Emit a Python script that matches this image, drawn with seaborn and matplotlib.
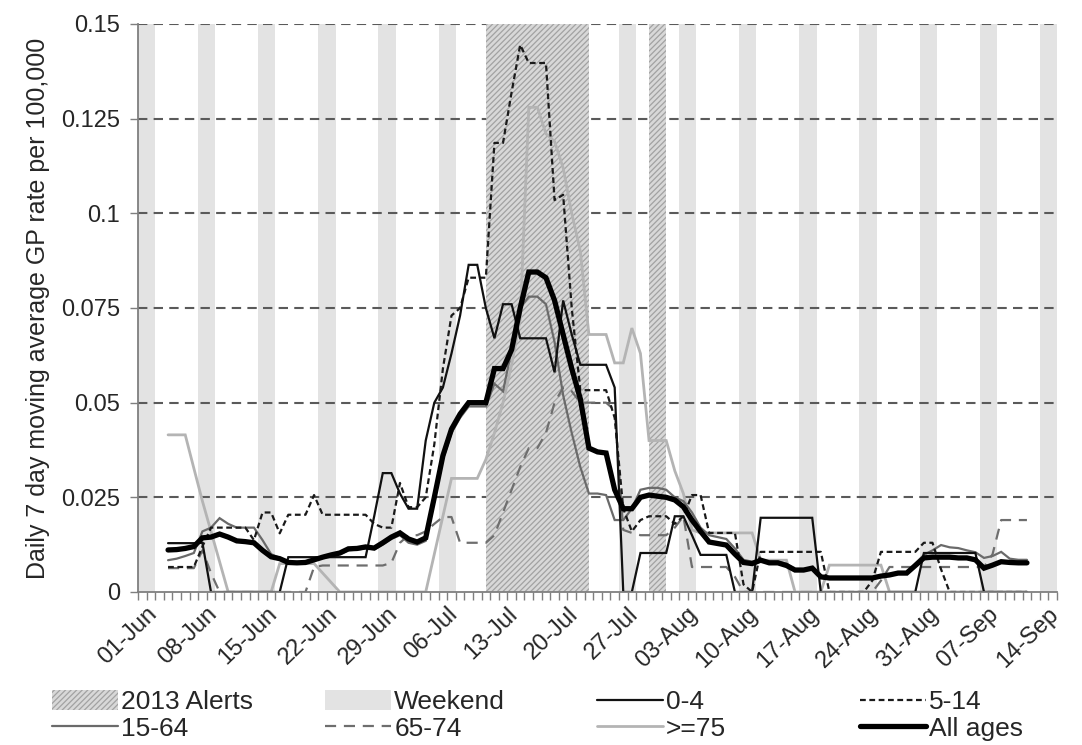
import numpy as np
import pandas as pd
import matplotlib
matplotlib.use("Agg")
import matplotlib.pyplot as plt
import matplotlib.transforms as mtransforms
from matplotlib.patches import Patch
from matplotlib.lines import Line2D
import seaborn as sns

# ---------------- data ----------------
dates = pd.date_range("2013-06-04", "2013-09-12", freq="D")

all_ages = ([0.0111, 0.0112, 0.0115, 0.0120, 0.0143, 0.0145, 0.0153, 0.0145, 0.0135, 0.0133,
             0.0130, 0.0110, 0.0093, 0.0088, 0.0078, 0.0077, 0.0078, 0.0085, 0.0092, 0.0098,
             0.0103, 0.0114, 0.0115, 0.0119, 0.0116, 0.0130, 0.0145, 0.0156, 0.0140, 0.0132,
             0.0143, 0.0250, 0.0360, 0.0430, 0.0470, 0.0500, 0.0500, 0.0500, 0.0590, 0.0590,
             0.0640, 0.0750, 0.0845, 0.0845, 0.0830, 0.0770, 0.0680, 0.0590, 0.0510, 0.0380,
             0.0370, 0.0367, 0.0270, 0.0220, 0.0220, 0.0250, 0.0256, 0.0253, 0.0250, 0.0243,
             0.0225, 0.0190, 0.0160, 0.0132, 0.0128, 0.0124, 0.0100, 0.0078, 0.0075, 0.0084,
             0.0077, 0.0077, 0.0070, 0.0058, 0.0058, 0.0063, 0.0040]
            + [0.0037] * 6
            + [0.0042, 0.0045, 0.0050, 0.0050, 0.0070, 0.0090, 0.0092, 0.0092, 0.0092, 0.0090,
               0.0090, 0.0085, 0.0063, 0.0071, 0.0080, 0.0078, 0.0077, 0.0077])

age_0_4 = ([0.0129] * 4 + [0.0130] + [0.0] * 9 + [0.0092] * 10
           + [0.020, 0.0314, 0.0314, 0.026, 0.022, 0.022, 0.040, 0.050, 0.054, 0.063,
              0.073, 0.0864, 0.0864, 0.075, 0.067, 0.076, 0.076, 0.067, 0.067, 0.067,
              0.067, 0.058, 0.077, 0.068, 0.060, 0.060, 0.060, 0.060, 0.054, 0.0, 0.0]
           + [0.0103] * 4 + [0.020, 0.020, 0.015] + [0.0098] * 4 + [0.0] * 3
           + [0.0196] * 7 + [0.0] * 12 + [0.0103] * 7 + [0.0] * 6)

age_5_14 = ([0.0066] * 4 + [0.012] + [0.017] * 5 + [0.0137, 0.021, 0.021, 0.0155]
            + [0.0204] * 3 + [0.0256] + [0.0204] * 6
            + [0.018, 0.017, 0.017, 0.0288, 0.0224, 0.0224, 0.025, 0.039, 0.059, 0.073,
               0.075, 0.083, 0.083, 0.083, 0.1186, 0.1186, 0.132, 0.1445, 0.1397, 0.1397,
               0.1397, 0.1035, 0.1049, 0.075, 0.0533, 0.0533, 0.0533, 0.0533, 0.046, 0.022, 0.016]
            + [0.019, 0.020, 0.020, 0.020, 0.018, 0.020, 0.0256, 0.0256] + [0.0156] * 4
            + [0.002, 0.0] + [0.0106] * 8 + [0.0] * 5 + [0.003] + [0.0106] * 5
            + [0.013, 0.013, 0.006] + [0.0] * 10)

age_15_64 = ([0.0084, 0.0088, 0.0095, 0.0103, 0.0160, 0.0170, 0.0195, 0.0180, 0.0170, 0.0170,
              0.0170, 0.0137, 0.0100, 0.0090, 0.0080, 0.0077, 0.0078, 0.0085, 0.0090, 0.0095,
              0.0100, 0.0110, 0.0112, 0.0115, 0.0113, 0.0125, 0.0140, 0.0150, 0.0130, 0.0125,
              0.0135, 0.0240, 0.0350, 0.0420, 0.0460, 0.0490, 0.0490, 0.0490, 0.0550, 0.0530,
              0.0640, 0.0750, 0.0780, 0.0780, 0.0760, 0.0660, 0.0520, 0.0420, 0.0330, 0.0260,
              0.0260, 0.0256, 0.0190, 0.0190, 0.0220, 0.0270, 0.0275, 0.0275, 0.0270, 0.0250,
              0.0240, 0.0210, 0.0170, 0.0150, 0.0145, 0.0140, 0.0115, 0.0085, 0.0080, 0.0085,
              0.0080, 0.0080, 0.0075, 0.0060, 0.0060, 0.0065, 0.0040]
             + [0.0037] * 6
             + [0.0043, 0.0046, 0.0050, 0.0050, 0.0075, 0.0098, 0.0110, 0.0124, 0.0118, 0.0116,
                0.0110, 0.0105, 0.0090, 0.0095, 0.0106, 0.0088, 0.0085, 0.0085])

age_65_74 = ([0.0063] * 4 + [0.011, 0.005] + [0.0] * 11 + [0.0066] + [0.0070] * 8 + [0.0077]
             + [0.013, 0.015, 0.015, 0.016, 0.018, 0.0198, 0.0198] + [0.013] * 4
             + [0.015, 0.021, 0.027, 0.033, 0.038, 0.038, 0.042, 0.050, 0.054, 0.053,
                0.050, 0.050, 0.050, 0.050, 0.048]
             + [0.0164, 0.0156] + [0.015] * 4 + [0.017, 0.020] + [0.0066] * 5 + [0.004]
             + [0.0] * 16 + [0.003] + [0.0066] * 12 + [0.010, 0.019] + [0.019] * 3)

age_75p = ([0.0415] * 3 + [0.0327, 0.024, 0.016, 0.008] + [0.0] * 6 + [0.0075] * 5
           + [0.005, 0.0025] + [0.0] * 11 + [0.010, 0.020] + [0.030] * 4
           + [0.035, 0.042, 0.050, 0.060, 0.072, 0.128, 0.128, 0.121, 0.119, 0.112,
              0.100, 0.090, 0.068, 0.068, 0.068, 0.0605, 0.0605, 0.0697, 0.063, 0.040,
              0.040, 0.040, 0.032, 0.026, 0.0164]
           + [0.0156] * 7 + [0.0084] * 4 + [0.0] * 4 + [0.0071] * 7 + [0.0] * 17)

alert_periods = [("2013-07-11", "2013-07-23"), ("2013-07-30", "2013-08-01")]
axis_start, axis_end = "2013-06-01", "2013-09-15"
tick_labels = ["01-Jun", "08-Jun", "15-Jun", "22-Jun", "29-Jun", "06-Jul", "13-Jul", "20-Jul",
               "27-Jul", "03-Aug", "10-Aug", "17-Aug", "24-Aug", "31-Aug", "07-Sep", "14-Sep"]
y_ticks = [0, 0.025, 0.05, 0.075, 0.1, 0.125, 0.15]
y_tick_labels = ["0", "0.025", "0.05", "0.075", "0.1", "0.125", "0.15"]

for s in (all_ages, age_0_4, age_5_14, age_15_64, age_65_74, age_75p):
    assert len(s) == len(dates), len(s)

# ---------------- style ----------------
sns.set_theme(style="white")
plt.rcParams["font.family"] = ["Liberation Sans", "DejaVu Sans"]
plt.rcParams["hatch.linewidth"] = 0.9
FS_Y = 17
FS_X = 17
FS_LAB = 18
FS_LEG = 19

t0 = pd.Timestamp(axis_start)
n_days = (pd.Timestamp(axis_end) - t0).days + 1
xday = (dates - t0).days.values + 0.5   # centre of each day cell

fig = plt.figure(figsize=(10.82, 7.45), dpi=100)
ax = fig.add_axes([138 / 1082, 1 - 592 / 745, (1057 - 138) / 1082, (592 - 24) / 745])

# weekends
all_days = pd.date_range(axis_start, axis_end, freq="D")
for d in all_days:
    if d.dayofweek == 5:
        s = (d - t0).days
        ax.axvspan(s, min(s + 2, n_days), facecolor="#e3e3e3", lw=0, zorder=0)

# gridlines
for yv in y_ticks[1:]:
    ax.axhline(yv, color="#5a5a5a", lw=1.5, linestyle=(0, (4.5, 3)), zorder=1)

# alerts
for a, b in alert_periods:
    s = (pd.Timestamp(a) - t0).days + 0.5
    e = (pd.Timestamp(b) - t0).days + 0.5
    ax.axvspan(s, e, facecolor="#d8d8d8", edgecolor="#a2a2a2", hatch="//////", lw=0, zorder=2)

df = pd.DataFrame({"x": xday})
series = [
    ("65-74", age_65_74, "#6e6e6e", 1.6, (5, 3.5), 3),
    (">=75", age_75p, "#b4b4b4", 2.0, None, 3),
    ("15-64", age_15_64, "#6a6a6a", 1.6, None, 4),
    ("5-14", age_5_14, "#1a1a1a", 1.6, (2.6, 1.6), 5),
    ("0-4", age_0_4, "#111111", 1.6, None, 5),
    ("All ages", all_ages, "#000000", 3.8, None, 6),
]
for name, vals, col, lw, dash, z in series:
    df[name] = vals
    n_before = len(ax.lines)
    sns.lineplot(data=df, x="x", y=name, ax=ax, color=col, linewidth=lw, zorder=z)
    ln = ax.lines[n_before]
    ln.set_solid_joinstyle("miter")
    if dash is not None:
        ln.set_dashes(dash)

ax.set_xlim(0, n_days)
ax.set_ylim(0, 0.15)
ax.set_xlabel("")
ax.set_ylabel("Daily 7 day moving average GP rate per 100,000", fontsize=FS_LAB, labelpad=8)

ax.set_yticks(y_ticks)
ax.set_yticklabels(y_tick_labels, fontsize=FS_Y)
ax.set_xticks(np.arange(0, n_days, 7))
ax.set_xticklabels(tick_labels, fontsize=FS_X, rotation=44, ha="right", rotation_mode="anchor")
ax.set_xticks(np.arange(0, n_days + 1), minor=True)
ax.tick_params(axis="x", which="both", direction="out", length=6, width=1.0, color="#7f7f7f",
               bottom=True, pad=2)
ax.tick_params(axis="y", which="major", direction="out", length=6, width=1.0, color="#7f7f7f",
               left=True, pad=7)
offset = mtransforms.ScaledTranslation(8 / 100, 0, fig.dpi_scale_trans)
for lab in ax.get_xticklabels():
    lab.set_transform(lab.get_transform() + offset)

for sp in ("top", "right"):
    ax.spines[sp].set_visible(False)
for sp in ("left", "bottom"):
    ax.spines[sp].set_color("#7f7f7f")
    ax.spines[sp].set_linewidth(1.3)
    ax.spines[sp].set_zorder(7)

# legend (4 columns of 2 rows)
h_alert = Patch(facecolor="#d8d8d8", edgecolor="#a2a2a2", hatch="//////", lw=0)
h_weekend = Patch(facecolor="#e3e3e3", lw=0)
def L(col, lw, dash=None):
    ln = Line2D([], [], color=col, lw=lw)
    if dash is not None:
        ln.set_dashes(dash)
    return ln
cols = [
    ([h_alert, L("#6a6a6a", 1.6)], ["2013 Alerts", "15-64"], 52),
    ([h_weekend, L("#6e6e6e", 1.6, (5, 3.5))], ["Weekend", "65-74"], 325),
    ([L("#111111", 1.6), L("#b4b4b4", 2.0)], ["0-4", ">=75"], 597),
    ([L("#1a1a1a", 1.6, (2.6, 1.6)), L("#000000", 3.8)], ["5-14", "All ages"], 860),
]
for hs, ls, xp in cols:
    fig.legend(hs, ls, loc="upper left", bbox_to_anchor=(xp / 1082, 1 - 690 / 745),
               frameon=False, fontsize=FS_LEG, handlelength=2.5, handleheight=0.8,
               handletextpad=0.12, labelspacing=0.08, borderpad=0, borderaxespad=0)

fig.savefig("out.png", dpi=100)
